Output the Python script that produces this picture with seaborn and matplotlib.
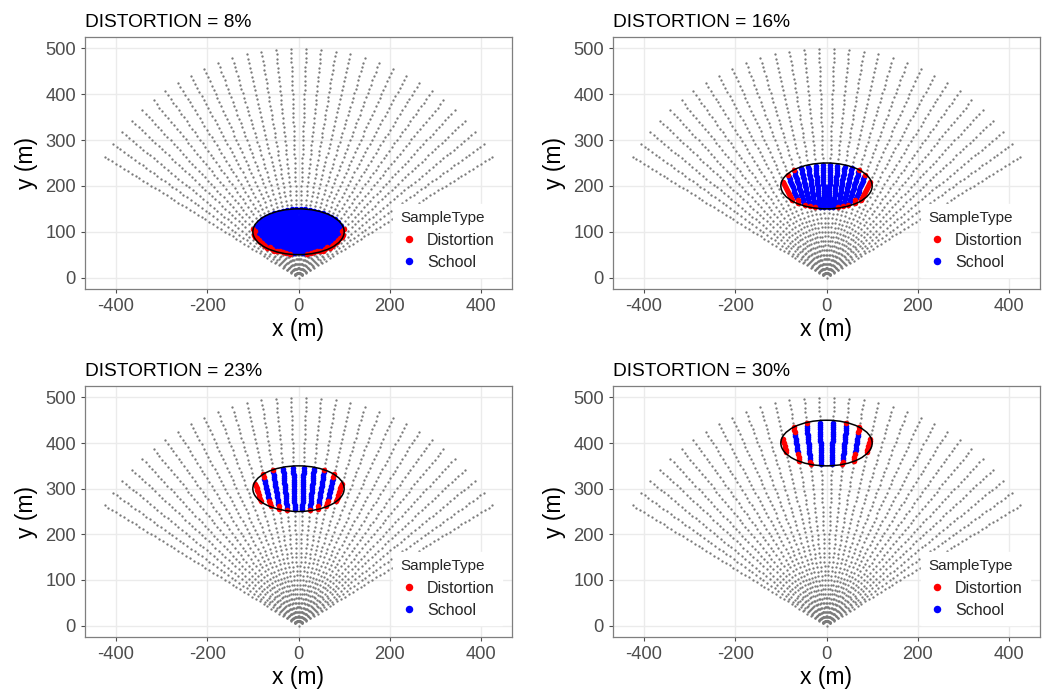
import numpy as np
import pandas as pd
import matplotlib
matplotlib.use("Agg")
import matplotlib.pyplot as plt
from matplotlib.patches import Ellipse
from matplotlib.lines import Line2D
import seaborn as sns

# ---- values ----
distortion_pct = [8, 16, 23, 30]          # panel titles
school_center_x = [0, 0, 0, 0]            # school ellipse centre (m)
school_center_y = [100, 200, 300, 400]
school_semi_x = 100                       # ellipse half-width (m)
school_semi_y = 50                        # ellipse half-height (m)

n_beams = 32                              # sonar beams in the fan
swath_deg = 120                           # total opening of the fan
beam_footprint = 1.75                     # beam width relative to beam spacing
range_step = 10                           # background sample spacing along a beam (m)
school_range_step = 5                     # sample spacing inside the school (m)
max_range = 500                           # last sample (m)

sample_types = ["Distortion", "School"]
type_colors = ["red", "blue"]

# ---- sonar sampling grids ----
beam_w = np.deg2rad(swath_deg / n_beams)
beam_angles = np.deg2rad(-swath_deg / 2) + beam_w * (np.arange(n_beams) + 0.5)


def polar_grid(step):
    rr = np.arange(step, max_range + 1, step)
    A, R = np.meshgrid(beam_angles, rr)
    g = pd.DataFrame({"ang": A.ravel(), "r": R.ravel()})
    g["x"] = g.r * np.sin(g.ang)
    g["y"] = g.r * np.cos(g.ang)
    return g


grid = pd.concat([pd.DataFrame({"ang": [0.0], "r": [0.0], "x": [0.0], "y": [0.0]}),
                  polar_grid(range_step)], ignore_index=True)
fine = polar_grid(school_range_step)


def classify(cx, cy):
    """Samples whose centre lies in the school: full-beam hits vs. partially filled beams."""
    offs = np.linspace(-0.5, 0.5, 17) * beam_w * beam_footprint
    ang = fine.ang.values[:, None] + offs[None, :]
    xs = fine.r.values[:, None] * np.sin(ang)
    ys = fine.r.values[:, None] * np.cos(ang)
    inside = ((xs - cx) / school_semi_x) ** 2 + ((ys - cy) / school_semi_y) ** 2 <= 1
    centre_in = (((fine.x - cx) / school_semi_x) ** 2
                 + ((fine.y - cy) / school_semi_y) ** 2 <= 1).values
    full = inside.all(axis=1)
    out = fine.loc[centre_in, ["x", "y"]].copy()
    out["SampleType"] = np.where(full[centre_in], "School", "Distortion")
    return out


# ---- style ----
sns.set_theme(style="white")
plt.rcParams["font.family"] = ["Liberation Sans", "DejaVu Sans"]
plt.rcParams["axes.unicode_minus"] = False

W, H = 1050, 689
fig = plt.figure(figsize=(W / 100, H / 100), dpi=100)
boxes = [(85, 512, 37, 289), (613, 1040, 37, 289),
         (85, 512, 386, 637), (613, 1040, 386, 637)]

palette = dict(zip(sample_types, type_colors))

for i, (l, r, t, b) in enumerate(boxes):
    ax = fig.add_axes([l / W, 1 - b / H, (r - l) / W, (b - t) / H])
    ax.set_axisbelow(True)
    ax.grid(True, color="#EBEBEB", linewidth=1.0)

    sns.scatterplot(data=grid, x="x", y="y", color="#7a7a7a", s=2.8,
                    linewidth=0, ax=ax, legend=False, zorder=2)

    pts = classify(school_center_x[i], school_center_y[i])
    for st in ["School", "Distortion"]:
        sub = pts[pts.SampleType == st]
        sns.scatterplot(data=sub, x="x", y="y", color=palette[st], s=16,
                        linewidth=0, ax=ax, legend=False, zorder=3)

    ax.add_patch(Ellipse((school_center_x[i], school_center_y[i]),
                         2 * school_semi_x, 2 * school_semi_y,
                         fill=False, edgecolor="black", linewidth=1.1, zorder=4))

    ax.set_xlim(-467.5, 467.5)
    ax.set_ylim(-25, 525)
    ax.set_xticks([-400, -200, 0, 200, 400])
    ax.set_yticks([0, 100, 200, 300, 400, 500])
    ax.tick_params(axis="both", which="major", labelsize=13.2, labelcolor="#4D4D4D",
                   color="#4D4D4D", length=3, width=0.8, pad=3.5,
                   bottom=True, left=True)
    for sp in ax.spines.values():
        sp.set_color("#7f7f7f")
        sp.set_linewidth(0.9)

    ax.set_xlabel("x (m)", fontsize=16.5, labelpad=2, color="black")
    ax.set_ylabel("y (m)", fontsize=16.5, labelpad=5, color="black")
    ax.set_title(f"DISTORTION = {distortion_pct[i]}%", loc="left",
                 fontsize=13.8, pad=7, color="black")

    handles = [Line2D([], [], marker="o", linestyle="", markersize=5.4,
                      markerfacecolor=c, markeredgewidth=0)
               for c in type_colors]
    leg = ax.legend(handles, sample_types, title="SampleType", loc="lower right",
                    bbox_to_anchor=(1 - 10 / (r - l), 12 / (b - t)), borderaxespad=0,
                    fontsize=11.5, title_fontsize=11, frameon=True, fancybox=False,
                    framealpha=1, edgecolor="white", facecolor="white",
                    handletextpad=0.5, labelspacing=0.45, borderpad=0.45,
                    handlelength=1.2, alignment="left")
    leg.set_zorder(5)

fig.savefig("out.png", dpi=100)
